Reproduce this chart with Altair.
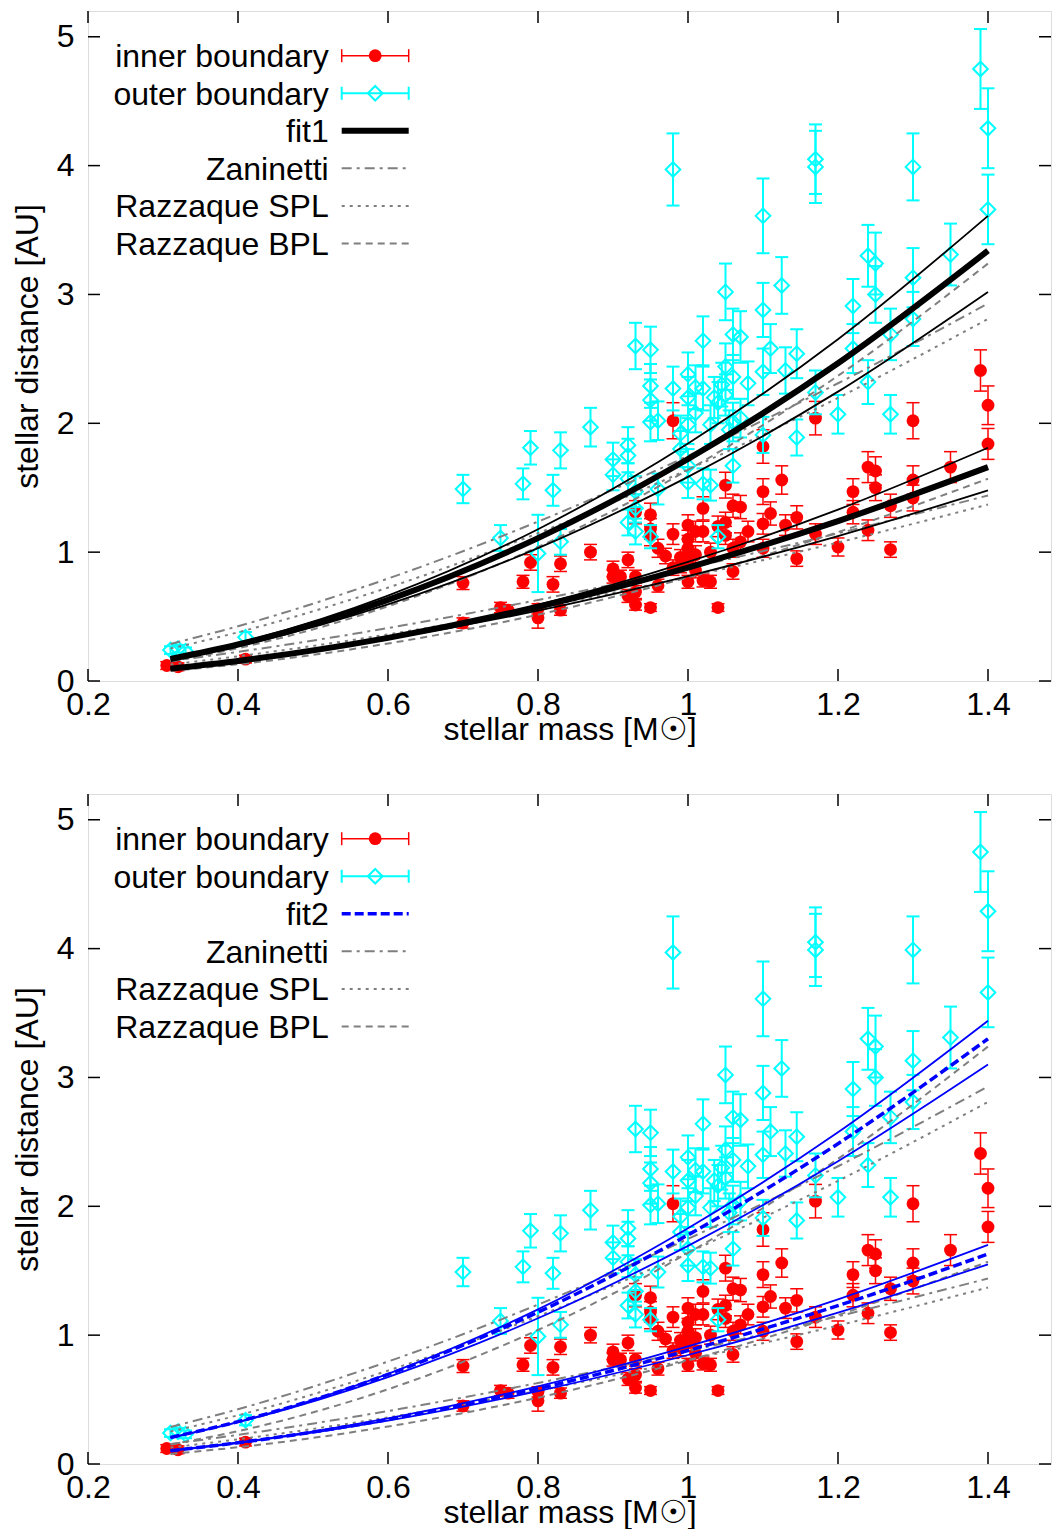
import altair as alt
import pandas as pd

# ---------------- data ----------------
inner_mass = [0.305, 0.32, 0.41, 0.70, 0.70, 0.75, 0.76, 0.78, 0.79, 0.80, 0.80, 0.82, 0.83, 0.83,
              0.87, 0.90, 0.90, 0.91, 0.92, 0.92, 0.93, 0.93, 0.93, 0.93, 0.95, 0.95, 0.95, 0.95,
              0.96, 0.96, 0.97, 0.98, 0.98, 0.98, 0.99, 0.99, 1.00, 1.00, 1.00, 1.00, 1.00, 1.01,
              1.01, 1.01, 1.02, 1.02, 1.02, 1.03, 1.03, 1.04, 1.04, 1.05, 1.05, 1.05, 1.06, 1.06,
              1.06, 1.07, 1.07, 1.08, 1.10, 1.10, 1.10, 1.10, 1.11, 1.125, 1.13, 1.145, 1.145,
              1.17, 1.17, 1.20, 1.22, 1.22, 1.24, 1.24, 1.25, 1.25, 1.27, 1.27, 1.30, 1.30, 1.30,
              1.35, 1.39, 1.40, 1.40]
inner_dist = [0.12, 0.11, 0.17, 0.76, 0.45, 0.57, 0.55, 0.77, 0.92, 0.49, 0.56, 0.75, 0.91, 0.55,
              1.00, 0.87, 0.81, 0.81, 0.94, 0.66, 1.31, 0.81, 0.69, 0.59, 1.29, 1.13, 1.18, 0.57,
              1.03, 0.74, 0.97, 2.02, 1.14, 0.88, 0.96, 0.90, 1.21, 1.10, 1.03, 0.94, 0.77, 1.16,
              0.98, 0.86, 1.34, 1.16, 0.78, 0.77, 1.00, 0.57, 1.20, 1.52, 1.23, 1.13, 1.36, 1.03,
              0.85, 1.35, 1.08, 1.16, 1.82, 1.47, 1.22, 1.03, 1.30, 1.56, 1.21, 1.27, 0.95,
              2.04, 1.14, 1.04, 1.47, 1.31, 1.66, 1.17, 1.63, 1.50, 1.36, 1.02, 2.02, 1.56, 1.42,
              1.66, 2.41, 2.14, 1.84]
inner_err = [0.03, 0.03, 0.03, 0.05, 0.04, 0.04, 0.04, 0.05, 0.06, 0.08, 0.04, 0.06, 0.06, 0.04,
             0.06, 0.06, 0.05, 0.05, 0.06, 0.05, 0.09, 0.05, 0.05, 0.04, 0.09, 0.08, 0.08, 0.03,
             0.07, 0.05, 0.06, 0.14, 0.08, 0.06, 0.06, 0.06, 0.08, 0.07, 0.07, 0.06, 0.05, 0.08,
             0.07, 0.06, 0.09, 0.08, 0.05, 0.05, 0.07, 0.03, 0.08, 0.10, 0.08, 0.07, 0.09, 0.07,
             0.06, 0.09, 0.07, 0.08, 0.13, 0.10, 0.08, 0.07, 0.09, 0.11, 0.08, 0.09, 0.06,
             0.13, 0.08, 0.07, 0.10, 0.09, 0.12, 0.08, 0.11, 0.10, 0.09, 0.06, 0.14, 0.11, 0.10,
             0.12, 0.16, 0.15, 0.12]

outer_mass = [0.31, 0.32, 0.33, 0.41, 0.70, 0.75, 0.78, 0.79, 0.80, 0.82, 0.83, 0.83, 0.87, 0.90,
              0.90, 0.92, 0.92, 0.92, 0.92, 0.93, 0.93, 0.93, 0.93, 0.95, 0.95, 0.95, 0.95, 0.95,
              0.96, 0.96, 0.98, 0.98, 0.99, 0.99, 1.00, 1.00, 1.00, 1.00, 1.00, 1.01, 1.01, 1.02,
              1.02, 1.02, 1.03, 1.03, 1.035, 1.04, 1.04, 1.045, 1.05, 1.05, 1.05, 1.055, 1.06,
              1.06, 1.06, 1.06, 1.07, 1.07, 1.08, 1.10, 1.10, 1.10, 1.10, 1.11, 1.125, 1.13,
              1.145, 1.145, 1.17, 1.17, 1.17, 1.20, 1.22, 1.22, 1.24, 1.24, 1.25, 1.25, 1.27,
              1.27, 1.30, 1.30, 1.30, 1.35, 1.39, 1.40, 1.40]
outer_dist = [0.24, 0.25, 0.23, 0.34, 1.49, 1.11, 1.53, 1.81, 0.99, 1.48, 1.79, 1.08, 1.97, 1.72,
              1.60, 1.83, 1.75, 1.57, 1.23, 2.60, 1.47, 1.34, 1.16, 2.57, 2.29, 2.18, 2.01, 1.12,
              2.02, 1.49, 3.97, 2.27, 1.92, 1.80, 2.38, 2.20, 1.99, 1.67, 1.54, 2.28, 2.08, 2.64,
              2.27, 1.53, 1.99, 1.52, 2.20, 2.16, 1.12, 2.30, 3.02, 2.44, 2.22, 1.95, 2.69,
              2.36, 2.01, 1.67, 2.67, 2.04, 2.31, 3.61, 2.88, 2.40, 1.91, 2.58, 3.07, 2.41,
              2.54, 1.89, 4.05, 3.99, 2.24, 2.07, 2.91, 2.58, 3.30, 2.32, 3.24, 3.00, 2.69,
              2.07, 3.99, 3.13, 2.81, 3.31, 4.75, 4.29, 3.66]
outer_err = [0.03, 0.03, 0.03, 0.04, 0.11, 0.10, 0.12, 0.13, 0.30, 0.12, 0.14, 0.10, 0.15, 0.13,
             0.12, 0.14, 0.13, 0.12, 0.10, 0.18, 0.12, 0.11, 0.10, 0.18, 0.17, 0.16, 0.15, 0.09,
             0.15, 0.12, 0.28, 0.17, 0.14, 0.14, 0.17, 0.16, 0.15, 0.13, 0.12, 0.17, 0.15, 0.19,
             0.17, 0.12, 0.15, 0.12, 0.16, 0.16, 0.09, 0.17, 0.22, 0.18, 0.16, 0.15, 0.20,
             0.17, 0.15, 0.13, 0.20, 0.15, 0.17, 0.29, 0.21, 0.18, 0.14, 0.19, 0.22, 0.18,
             0.19, 0.14, 0.27, 0.28, 0.17, 0.15, 0.21, 0.19, 0.24, 0.17, 0.24, 0.22, 0.20,
             0.15, 0.26, 0.23, 0.21, 0.24, 0.31, 0.31, 0.27]

# model / fit curves sampled at these masses
curve_mass = [0.31, 0.4, 0.6, 0.8, 1.0, 1.2, 1.4]
fit1_outer = [0.171, 0.283, 0.630, 1.109, 1.723, 2.466, 3.34]
fit1_outer_hi = [0.177, 0.295, 0.663, 1.178, 1.844, 2.653, 3.61]
fit1_outer_lo = [0.167, 0.272, 0.594, 1.031, 1.584, 2.246, 3.02]
fit1_inner = [0.096, 0.156, 0.335, 0.576, 0.880, 1.241, 1.66]
fit1_inner_hi = [0.089, 0.148, 0.333, 0.590, 0.924, 1.330, 1.81]
fit1_inner_lo = [0.101, 0.159, 0.328, 0.546, 0.814, 1.125, 1.48]
fit2_outer = [0.206, 0.329, 0.695, 1.178, 1.778, 2.486, 3.30]
fit2_outer_hi = [0.202, 0.326, 0.700, 1.200, 1.829, 2.574, 3.44]
fit2_outer_lo = [0.206, 0.325, 0.675, 1.131, 1.693, 2.350, 3.10]
fit2_inner = [0.103, 0.165, 0.346, 0.585, 0.881, 1.229, 1.63]
fit2_inner_hi = [0.104, 0.167, 0.355, 0.603, 0.913, 1.278, 1.70]
fit2_inner_lo = [0.103, 0.163, 0.337, 0.566, 0.846, 1.175, 1.55]
zan_outer = [0.287, 0.425, 0.795, 1.237, 1.747, 2.311, 2.93]
zan_inner = [0.155, 0.226, 0.411, 0.629, 0.876, 1.146, 1.44]
spl_outer = [0.252, 0.378, 0.725, 1.147, 1.641, 2.197, 2.81]
spl_inner = [0.128, 0.192, 0.362, 0.569, 0.808, 1.075, 1.37]
bpl_outer = [0.152, 0.255, 0.580, 1.040, 1.638, 2.369, 3.24]
bpl_inner = [0.078, 0.130, 0.291, 0.515, 0.804, 1.156, 1.57]

x_ticks = [0.2, 0.4, 0.6, 0.8, 1.0, 1.2, 1.4]
y_ticks = [0, 1, 2, 3, 4, 5]

# ---------------- tables ----------------
inner_df = pd.DataFrame({"mass": inner_mass, "dist": inner_dist, "err": inner_err})
inner_df["lo"] = inner_df["dist"] - inner_df["err"]
inner_df["hi"] = inner_df["dist"] + inner_df["err"]
outer_df = pd.DataFrame({"mass": outer_mass, "dist": outer_dist, "err": outer_err})
outer_df["lo"] = outer_df["dist"] - outer_df["err"]
outer_df["hi"] = outer_df["dist"] + outer_df["err"]

curve_table = {
    "fit1_outer": fit1_outer, "fit1_outer_hi": fit1_outer_hi, "fit1_outer_lo": fit1_outer_lo,
    "fit1_inner": fit1_inner, "fit1_inner_hi": fit1_inner_hi, "fit1_inner_lo": fit1_inner_lo,
    "fit2_outer": fit2_outer, "fit2_outer_hi": fit2_outer_hi, "fit2_outer_lo": fit2_outer_lo,
    "fit2_inner": fit2_inner, "fit2_inner_hi": fit2_inner_hi, "fit2_inner_lo": fit2_inner_lo,
    "zan_outer": zan_outer, "zan_inner": zan_inner,
    "spl_outer": spl_outer, "spl_inner": spl_inner,
    "bpl_outer": bpl_outer, "bpl_inner": bpl_inner,
}
rows = []
for name, ys in curve_table.items():
    for m, d in zip(curve_mass, ys):
        rows.append({"curve": name, "mass": m, "dist": d})
curves = pd.DataFrame(rows)
one = pd.DataFrame({"k": [0]})
xtick_df = pd.DataFrame({"t": x_ticks})
ytick_df = pd.DataFrame({"t": y_ticks})

# ---------------- styling ----------------
FONT = "Liberation Sans"
FS = 32
RED = "#ff0000"
CYAN = "#00ffff"
GRAY = "#7f7f7f"
BLUE = "#0000ff"
W, H = 963, 670
TICK = 12

xscale = alt.Scale(domain=[0.2, 0.2 + W / 750.0], nice=False, zero=False)
yscale = alt.Scale(domain=[0, 5.2], nice=False, zero=False)


def X(field="mass"):
    return alt.X(f"{field}:Q", scale=xscale, axis=None)


def Y(field="dist"):
    return alt.Y(f"{field}:Q", scale=yscale, axis=None)


def make_axis(orient, values, title, label_pad, title_pad):
    return alt.Axis(orient=orient, values=values, ticks=False, domain=False, grid=False,
                    format="~g", labelFont=FONT, labelFontSize=FS, labelColor="black",
                    labelPadding=label_pad, labelFlush=False, labelOverlap=False,
                    title=title, titleFont=FONT, titleFontSize=FS, titleFontWeight="normal",
                    titleColor="black", titlePadding=title_pad)


def line_layer(names, **style):
    return (alt.Chart(curves)
            .transform_filter(alt.FieldOneOfPredicate(field="curve", oneOf=names))
            .mark_line(interpolate="monotone", **style)
            .encode(x=X(), y=Y(), detail="curve:N"))


def frame_layers():
    main = alt.Chart(inner_df).mark_point(opacity=0).encode(
        x=alt.X("mass:Q", scale=xscale,
                axis=make_axis("bottom", x_ticks, "stellar mass [M☉]", 8, -6)),
        y=alt.Y("dist:Q", scale=yscale,
                axis=make_axis("left", y_ticks, "stellar distance [AU]", 14, 12)),
    )
    tk = dict(color="black", strokeWidth=1.5)
    return [
        main,
        alt.Chart(ytick_df).mark_rule(**tk).encode(y=Y("t"), x=alt.value(0), x2=alt.value(TICK)),
        alt.Chart(ytick_df).mark_rule(**tk).encode(y=Y("t"), x=alt.value(W - TICK), x2=alt.value(W)),
        alt.Chart(xtick_df).mark_rule(**tk).encode(x=X("t"), y=alt.value(H - TICK), y2=alt.value(H)),
        alt.Chart(xtick_df).mark_rule(**tk).encode(x=X("t"), y=alt.value(0), y2=alt.value(TICK)),
    ]


def data_layers():
    L = []
    # inner boundary
    L.append(alt.Chart(inner_df).mark_rule(color=RED, strokeWidth=1.5).encode(x=X(), y=Y("lo"), y2="hi:Q"))
    L.append(alt.Chart(inner_df).mark_tick(orient="horizontal", size=13, thickness=1.5, color=RED, opacity=1).encode(x=X(), y=Y("lo")))
    L.append(alt.Chart(inner_df).mark_tick(orient="horizontal", size=13, thickness=1.5, color=RED, opacity=1).encode(x=X(), y=Y("hi")))
    L.append(alt.Chart(inner_df).mark_circle(size=165, color=RED, opacity=1).encode(x=X(), y=Y()))
    # outer boundary
    L.append(alt.Chart(outer_df).mark_rule(color=CYAN, strokeWidth=2).encode(x=X(), y=Y("lo"), y2="hi:Q"))
    L.append(alt.Chart(outer_df).mark_tick(orient="horizontal", size=13, thickness=2, color=CYAN, opacity=1).encode(x=X(), y=Y("lo")))
    L.append(alt.Chart(outer_df).mark_tick(orient="horizontal", size=13, thickness=2, color=CYAN, opacity=1).encode(x=X(), y=Y("hi")))
    L.append(alt.Chart(outer_df).mark_point(shape="diamond", size=215, filled=False, strokeWidth=2, color=CYAN, opacity=1).encode(x=X(), y=Y()))
    return L


def model_layers():
    return [
        line_layer(["zan_outer", "zan_inner"], color=GRAY, strokeWidth=2, strokeDash=[10, 5, 3, 5]),
        line_layer(["spl_outer", "spl_inner"], color=GRAY, strokeWidth=2, strokeDash=[3, 5]),
        line_layer(["bpl_outer", "bpl_inner"], color=GRAY, strokeWidth=2, strokeDash=[7, 5]),
    ]


# legend geometry (pixels inside the plot area)
LX_TEXT, LX1, LX2, LXC = 240.7, 253.7, 320.7, 287.2
ROW0, DROW = 44.7, 37.55


def hrule(y, color, width, dash=None):
    kw = dict(color=color, strokeWidth=width)
    if dash:
        kw["strokeDash"] = dash
    return alt.Chart(one).mark_rule(**kw).encode(x=alt.value(LX1), x2=alt.value(LX2), y=alt.value(y))


def vcap(x, y, color, width):
    return alt.Chart(one).mark_rule(color=color, strokeWidth=width).encode(
        x=alt.value(x), y=alt.value(y - 6.5), y2=alt.value(y + 6.5))


def legend_layers(fit_label, fit_color, fit_width, fit_dash):
    labels = ["inner boundary", "outer boundary", fit_label, "Zaninetti", "Razzaque SPL", "Razzaque BPL"]
    L = []
    r = [ROW0 + DROW * i for i in range(6)]
    for i, lab in enumerate(labels):
        L.append(alt.Chart(one).mark_text(text=lab, align="right", baseline="alphabetic", font=FONT,
                                          fontSize=FS, color="black").encode(
            x=alt.value(LX_TEXT), y=alt.value(r[i] + 11.5)))
    L += [hrule(r[0], RED, 1.5), vcap(LX1, r[0], RED, 1.5), vcap(LX2, r[0], RED, 1.5),
          alt.Chart(one).mark_circle(size=165, color=RED, opacity=1).encode(x=alt.value(LXC), y=alt.value(r[0]))]
    L += [hrule(r[1], CYAN, 2), vcap(LX1, r[1], CYAN, 2), vcap(LX2, r[1], CYAN, 2),
          alt.Chart(one).mark_point(shape="diamond", size=215, filled=False, strokeWidth=2, color=CYAN,
                                    opacity=1).encode(x=alt.value(LXC), y=alt.value(r[1]))]
    L.append(hrule(r[2], fit_color, fit_width, fit_dash))
    L.append(hrule(r[3], GRAY, 2, [10, 5, 3, 5]))
    L.append(hrule(r[4], GRAY, 2, [3, 5]))
    L.append(hrule(r[5], GRAY, 2, [7, 5]))
    return L


def panel(fit):
    if fit == 1:
        fit_lines = [
            line_layer(["fit1_outer_hi", "fit1_outer_lo", "fit1_inner_hi", "fit1_inner_lo"],
                       color="black", strokeWidth=1.8),
            line_layer(["fit1_outer", "fit1_inner"], color="black", strokeWidth=6),
        ]
        leg = legend_layers("fit1", "black", 6, None)
    else:
        fit_lines = [
            line_layer(["fit2_outer_hi", "fit2_outer_lo", "fit2_inner_hi", "fit2_inner_lo"],
                       color=BLUE, strokeWidth=1.8),
            line_layer(["fit2_outer", "fit2_inner"], color=BLUE, strokeWidth=3.5, strokeDash=[9, 4]),
        ]
        leg = legend_layers("fit2", BLUE, 3.5, [9, 4])
    layers = frame_layers() + data_layers() + model_layers() + fit_lines + leg
    return (alt.layer(*layers)
            .resolve_axis(x="independent", y="independent")
            .properties(width=W, height=H))


chart = (alt.vconcat(panel(1), panel(2), spacing=113, bounds="flush")
         .properties(padding={"left": 2, "top": 1, "right": 0, "bottom": 0})
         .configure_view(stroke="black", strokeWidth=2)
         .configure(background="white"))

chart.save("out.html", embed_options={"renderer": "svg", "actions": False})
